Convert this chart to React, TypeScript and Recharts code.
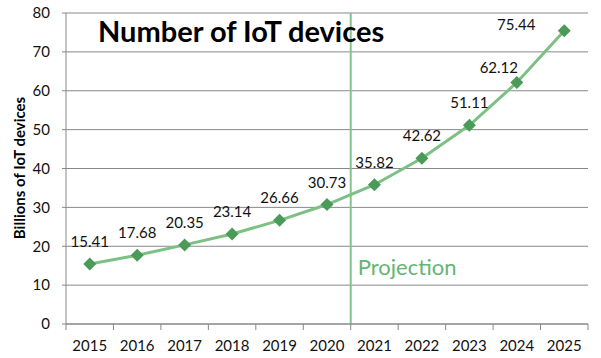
import { LineChart, Line, XAxis, YAxis, CartesianGrid, ReferenceLine, LabelList } from "recharts";

const years = [2015, 2016, 2017, 2018, 2019, 2020, 2021, 2022, 2023, 2024, 2025];
const devices = [15.41, 17.68, 20.35, 23.14, 26.66, 30.73, 35.82, 42.62, 51.11, 62.12, 75.44];
const yTicks = [0, 10, 20, 30, 40, 50, 60, 70, 80];
const projectionStart = 2020.5;

const data = years.map((year, i) => ({ year, value: devices[i] }));
const boundaries = [...years.map((y) => y - 0.5), years[years.length - 1] + 0.5];

const FONT = "Lato, 'Open Sans', sans-serif";
const GREY = "#888888";

// a couple of labels were nudged left in the original
const labelNudge: Record<number, [number, number]> = {
    9: [-18, -10],
    10: [-48, -1],
};

const Diamond = (props: any) => {
    const { cx, cy } = props;
    if (cx == null || cy == null) return null;
    const r = 6.5;
    return (
        <polygon
            points={`${cx},${cy - r} ${cx + r},${cy} ${cx},${cy + r} ${cx - r},${cy}`}
            fill="#4b9a58"
        />
    );
};

const ValueLabel = (props: any) => {
    const { x, y, value, index } = props;
    const [dx, dy] = labelNudge[index] ?? [0, -17];
    return (
        <text x={x + dx} y={y + dy} textAnchor="middle" fontSize={15} fontFamily={FONT} fill="#111">
            {value.toFixed(2)}
        </text>
    );
};

export default function App() {
    return (
        <div style={{ position: "absolute", left: 0, top: 0, width: 601, height: 358, background: "#fff" }}>
            <div
                style={{
                    position: "absolute",
                    left: 98,
                    top: 13,
                    fontFamily: FONT,
                    fontWeight: 700,
                    fontSize: 29,
                    color: "#000",
                    whiteSpace: "nowrap",
                    zIndex: 2,
                }}
            >
                Number of IoT devices
            </div>
            <LineChart width={601} height={358} data={data} margin={{ top: 13, right: 13, left: 0, bottom: 0 }}>
                <CartesianGrid xAxisId="years" vertical={false} stroke={GREY} strokeWidth={1} />
                <XAxis
                    xAxisId="marks"
                    dataKey="year"
                    type="number"
                    domain={[boundaries[0], boundaries[boundaries.length - 1]]}
                    ticks={boundaries}
                    tick={{ fontSize: 1, fill: "none" }}
                    interval={0}
                    height={1}
                    tickSize={6}
                    stroke={GREY}
                    allowDecimals
                />
                <XAxis
                    xAxisId="years"
                    dataKey="year"
                    type="number"
                    domain={[boundaries[0], boundaries[boundaries.length - 1]]}
                    ticks={years}
                    interval={0}
                    tickLine={false}
                    axisLine={false}
                    height={33}
                    tickSize={5}
                    tickMargin={10}
                    tick={{ fontSize: 15, fontFamily: FONT, fill: "#111" }}
                />
                <YAxis
                    domain={[0, 80]}
                    ticks={yTicks}
                    width={66}
                    tickSize={4}
                    tickMargin={12}
                    stroke={GREY}
                    tick={{ fontSize: 15, fontFamily: FONT, fill: "#111" }}
                    label={() => (
                        <text
                            x={19}
                            y={168}
                            transform="rotate(-90, 19, 168)"
                            textAnchor="middle"
                            dominantBaseline="central"
                            fontSize={15}
                            fontWeight={700}
                            fontFamily={FONT}
                            fill="#000"
                        >
                            Billions of IoT devices
                        </text>
                    )}
                />
                <ReferenceLine
                    xAxisId="years"
                    x={projectionStart}
                    stroke="#84c48c"
                    strokeWidth={2}
                    label={(p: any) => (
                        <text
                            x={p.viewBox.x + 7}
                            y={275}
                            fontSize={22}
                            fontFamily={FONT}
                            fill="#66b474"
                        >
                            Projection
                        </text>
                    )}
                />
                <Line
                    xAxisId="years"
                    type="linear"
                    dataKey="value"
                    stroke="#7cc084"
                    strokeWidth={3}
                    dot={<Diamond />}
                    activeDot={false}
                    isAnimationActive={false}
                >
                    <LabelList dataKey="value" content={<ValueLabel />} />
                </Line>
            </LineChart>
        </div>
    );
}
